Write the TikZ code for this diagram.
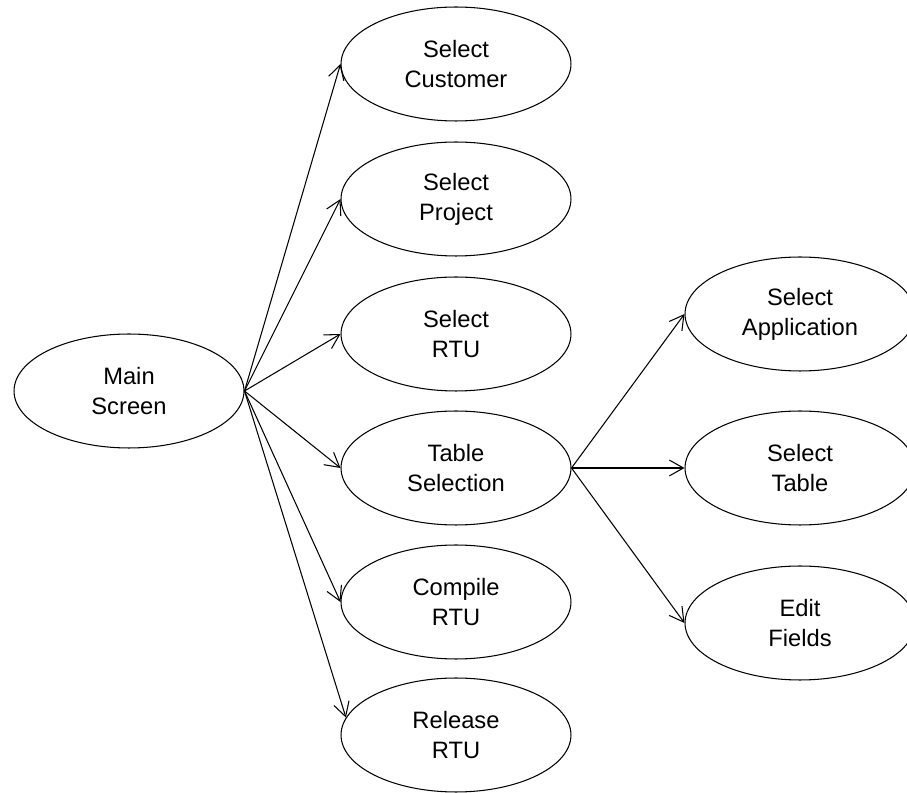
\documentclass[tikz,border=0pt]{standalone}
\usepackage{fontspec}
\setmainfont{Liberation Sans}
\usetikzlibrary{shapes.geometric, arrows.meta}

\begin{document}
\begin{tikzpicture}[
    x=0.02cm, y=-0.02cm,
    usecase/.style={draw, ellipse, line width=0.6pt, minimum width=4.6cm, minimum height=2.28cm,
        inner sep=0pt, align=center, font=\fontsize{13.5}{17}\selectfont},
    arrow/.style={-{Straight Barb[length=8pt, width=9pt]}, line width=0.6pt},
]
    \useasboundingbox (0,0) rectangle (907,793);

    % Main screen
    \node[usecase] (main) at (129, 391) {Main\\Screen};

    % Column of screens reached from main
    \node[usecase] (customer) at (456, 64) {Select\\Customer};
    \node[usecase] (project) at (456, 199) {Select\\Project};
    \node[usecase] (rtu) at (456, 334) {Select\\RTU};
    \node[usecase] (tablesel) at (456, 468) {Table\\Selection};
    \node[usecase] (compile) at (456, 602) {Compile\\RTU};
    \node[usecase] (release) at (456, 735) {Release\\RTU};

    % Table selection sub-screens
    \node[usecase] (application) at (800, 314) {Select\\Application};
    \node[usecase] (table) at (800, 468) {Select\\Table};
    \node[usecase] (fields) at (800, 623) {Edit\\Fields};

    % Arrows
    \draw[arrow] (main.east) -- (customer.west);
    \draw[arrow] (main.east) -- (project.west);
    \draw[arrow] (main.east) -- (rtu.west);
    \draw[arrow] (main.east) -- (tablesel.west);
    \draw[arrow] (main.east) -- (compile.west);
    \draw[arrow] (main.east) -- (release.171);

    \draw[arrow] (tablesel.east) -- (application.west);
    \draw[arrow] (tablesel.east) -- (table.west);
    \draw[arrow] (tablesel.east) -- (fields.west);
\end{tikzpicture}
\end{document}
